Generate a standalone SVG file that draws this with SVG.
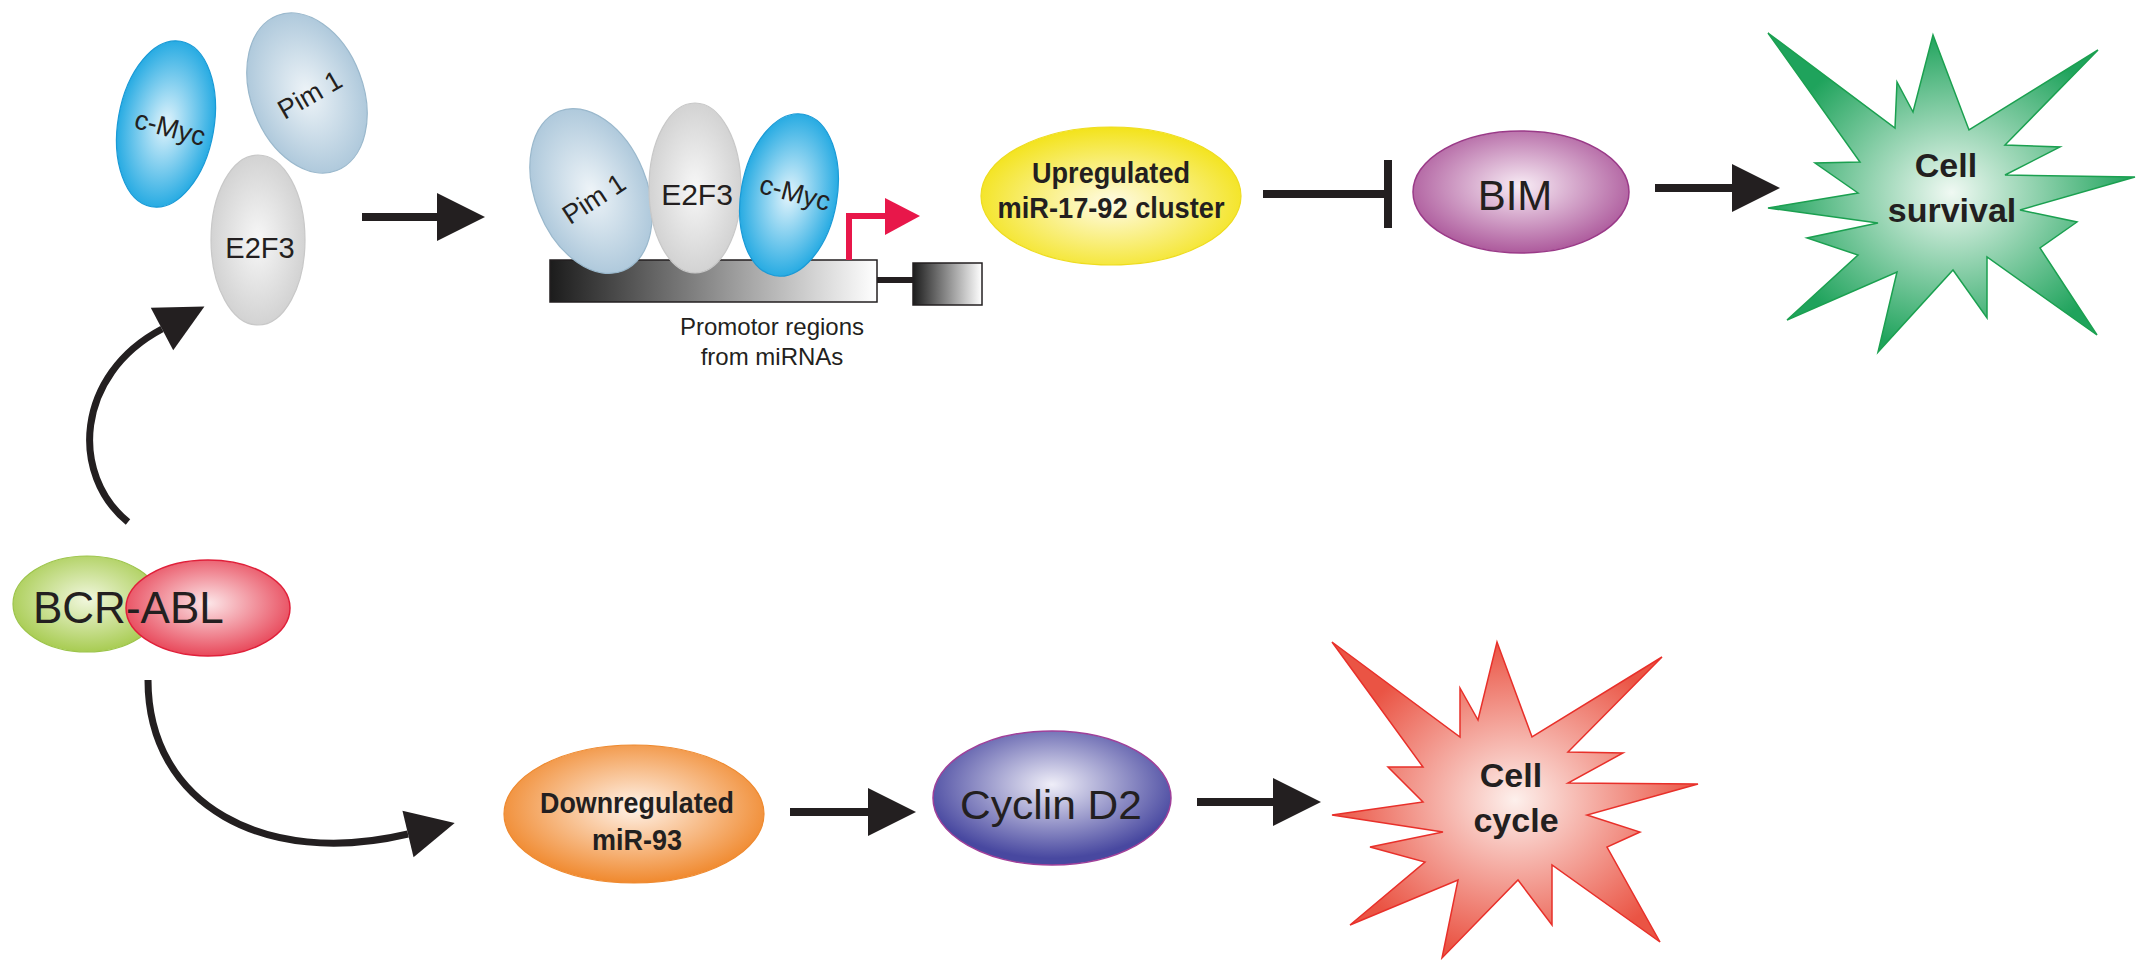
<svg xmlns="http://www.w3.org/2000/svg" width="2150" height="972" viewBox="0 0 2150 972">
<style>
  .lbl { font-family: "Liberation Sans", Arial, sans-serif; fill: #231f20; }
  .bold { font-weight: bold; }
  .conn { stroke: #231f20; fill: none; }
  .cmyc { fill: url(#gCmyc); stroke: #1a9ad6; stroke-width: 1.2; }
  .pim { fill: url(#gPim); stroke: #9ab8cc; stroke-width: 1.2; }
  .e2f3 { fill: url(#gE2f3); stroke: #c8c8c8; stroke-width: 1.2; }
</style>
<defs>
  <radialGradient id="gCmyc" cx="50%" cy="50%" r="55%"><stop offset="0" stop-color="#e2f4fc"/><stop offset="1" stop-color="#15a4e0"/></radialGradient>
  <radialGradient id="gPim" cx="50%" cy="50%" r="55%"><stop offset="0" stop-color="#eef4f8"/><stop offset="1" stop-color="#a9c5d9"/></radialGradient>
  <radialGradient id="gE2f3" cx="50%" cy="50%" r="55%"><stop offset="0" stop-color="#f7f7f7"/><stop offset="1" stop-color="#cfcfcf"/></radialGradient>
  <radialGradient id="gBcr" cx="50%" cy="45%" r="55%"><stop offset="0" stop-color="#f1f7de"/><stop offset="1" stop-color="#a8cc52"/></radialGradient>
  <radialGradient id="gAbl" cx="50%" cy="45%" r="55%"><stop offset="0" stop-color="#fce6e8"/><stop offset="1" stop-color="#e8485a"/></radialGradient>
  <radialGradient id="gYel" cx="50%" cy="55%" r="55%"><stop offset="0" stop-color="#fffbe6"/><stop offset="1" stop-color="#f3e31a"/></radialGradient>
  <radialGradient id="gBim" cx="50%" cy="45%" r="55%"><stop offset="0" stop-color="#f8ecf5"/><stop offset="1" stop-color="#ad5a9c"/></radialGradient>
  <radialGradient id="gOra" cx="50%" cy="45%" r="55%"><stop offset="0" stop-color="#fff3ea"/><stop offset="1" stop-color="#f0892e"/></radialGradient>
  <radialGradient id="gCyc" cx="50%" cy="40%" r="55%"><stop offset="0" stop-color="#efeef8"/><stop offset="1" stop-color="#4848a0"/></radialGradient>
  <radialGradient id="gGreen" cx="50%" cy="50%" r="50%"><stop offset="0" stop-color="#f0f9f3"/><stop offset="1" stop-color="#1fa35c"/></radialGradient>
  <radialGradient id="gRed" cx="50%" cy="50%" r="50%"><stop offset="0" stop-color="#fdf0ec"/><stop offset="1" stop-color="#ea5444"/></radialGradient>
  <linearGradient id="gBar" x1="0" y1="0" x2="1" y2="0"><stop offset="0" stop-color="#1c1c1c"/><stop offset="1" stop-color="#ffffff"/></linearGradient>
  <marker id="ah" markerUnits="userSpaceOnUse" markerWidth="50" markerHeight="50" refX="0" refY="24" orient="auto" overflow="visible">
    <path d="M0,0 L48,24 L0,48 z" fill="#231f20"/>
  </marker>
</defs>
<rect width="2150" height="972" fill="#ffffff"/>

<!-- Connectors -->
<g id="connectors">
  <line class="conn" x1="362" y1="217" x2="437" y2="217" stroke-width="8" marker-end="url(#ah)"/>
  <path class="conn" d="M128,522 C70,475 75,375 162,329" stroke-width="7" marker-end="url(#ah)"/>
  <path class="conn" d="M148,680 C148,805 265,868 408,834" stroke-width="7" marker-end="url(#ah)"/>
  <line class="conn" x1="1263" y1="194" x2="1388" y2="194" stroke-width="8"/>
  <line class="conn" x1="1388" y1="160" x2="1388" y2="228" stroke-width="8"/>
  <line class="conn" x1="1655" y1="188" x2="1732" y2="188" stroke-width="8" marker-end="url(#ah)"/>
  <line class="conn" x1="790" y1="812" x2="868" y2="812" stroke-width="8" marker-end="url(#ah)"/>
  <line class="conn" x1="1197" y1="802" x2="1273" y2="802" stroke-width="8" marker-end="url(#ah)"/>
</g>

<!-- Free factors -->
<g id="cmyc-free">
  <ellipse class="cmyc" cx="166" cy="124" rx="48" ry="84" transform="rotate(10 166 124)"/>
  <text class="lbl" x="170" y="137" font-size="27" text-anchor="middle" transform="rotate(15 170 128)">c-Myc</text>
</g>
<g id="pim1-free">
  <ellipse class="pim" cx="307" cy="93" rx="56" ry="83" transform="rotate(-21 307 93)"/>
  <text class="lbl" x="310" y="104" font-size="27" text-anchor="middle" transform="rotate(-30 310 95)">Pim 1</text>
</g>
<g id="e2f3-free">
  <ellipse class="e2f3" cx="258" cy="240" rx="47" ry="85"/>
  <text class="lbl" x="260" y="258" font-size="29" text-anchor="middle">E2F3</text>
</g>

<!-- Promoter complex -->
<g id="promoter">
  <rect x="550" y="260" width="327" height="42" fill="url(#gBar)" stroke="#231f20" stroke-width="1.5"/>
  <line x1="877" y1="280" x2="913" y2="280" stroke="#231f20" stroke-width="6"/>
  <rect x="913" y="263" width="69" height="42" fill="url(#gBar)" stroke="#231f20" stroke-width="1.5"/>
  <path d="M849,260 V216 H887" fill="none" stroke="#e8174a" stroke-width="6"/>
  <polygon points="885,198 920,216 885,235" fill="#e8174a"/>
  <text class="lbl" x="772" y="335" font-size="24" text-anchor="middle">Promotor regions</text>
  <text class="lbl" x="772" y="365" font-size="24" text-anchor="middle">from miRNAs</text>
</g>
<g id="pim1-bound">
  <ellipse class="pim" cx="591" cy="191" rx="56" ry="86" transform="rotate(-22 591 191)"/>
  <text class="lbl" x="594" y="208" font-size="27" text-anchor="middle" transform="rotate(-33 594 199)">Pim 1</text>
</g>
<g id="e2f3-bound">
  <ellipse class="e2f3" cx="695" cy="188" rx="46" ry="85"/>
  <text class="lbl" x="697" y="205" font-size="30" text-anchor="middle">E2F3</text>
</g>
<g id="cmyc-bound">
  <ellipse class="cmyc" cx="789" cy="195" rx="48" ry="82" transform="rotate(10 789 195)"/>
  <text class="lbl" x="795" y="202" font-size="27" text-anchor="middle" transform="rotate(15 795 193)">c-Myc</text>
</g>

<!-- BCR-ABL -->
<g id="bcr-abl">
  <ellipse cx="87" cy="604" rx="74" ry="48" fill="url(#gBcr)" stroke="#9cc44a" stroke-width="1.2"/>
  <ellipse cx="208" cy="608" rx="82" ry="48" fill="url(#gAbl)" stroke="#e0203a" stroke-width="1.5"/>
  <text class="lbl" x="33" y="623" font-size="44">BCR-ABL</text>
</g>

<!-- miR-17-92 -->
<g id="mir17-92">
  <ellipse cx="1111" cy="196" rx="130" ry="69" fill="url(#gYel)" stroke="#eedc20" stroke-width="1.2"/>
  <text class="lbl bold" x="1111" y="183" font-size="29" text-anchor="middle" textLength="158" lengthAdjust="spacingAndGlyphs">Upregulated</text>
  <text class="lbl bold" x="1111" y="218" font-size="29" text-anchor="middle" textLength="227" lengthAdjust="spacingAndGlyphs">miR-17-92 cluster</text>
</g>

<!-- BIM -->
<g id="bim">
  <ellipse cx="1521" cy="192" rx="108" ry="61" fill="url(#gBim)" stroke="#9a3a88" stroke-width="1.5"/>
  <text class="lbl" x="1515" y="210" font-size="42" text-anchor="middle">BIM</text>
</g>

<!-- Cell survival -->
<g id="cell-survival">
  <polygon points="1768,33 1895,128 1897,82 1913,112 1933,35 1969,130 2098,50 2005,145 2060,147 2005,175 2135,177 2020,210 2077,222 2040,248 2097,335 1987,257 1987,318 1953,270 1878,352 1897,272 1787,320 1858,255 1807,238 1878,223 1768,208 1858,193 1815,163 1860,162" fill="url(#gGreen)" stroke="#1ba050" stroke-width="1.5" stroke-linejoin="miter"/>
  <text class="lbl bold" x="1946" y="177" font-size="34" text-anchor="middle">Cell</text>
  <text class="lbl bold" x="1952" y="222" font-size="34" text-anchor="middle">survival</text>
</g>

<!-- miR-93 -->
<g id="mir93">
  <ellipse cx="634" cy="814" rx="130" ry="69" fill="url(#gOra)" stroke="#ee8a30" stroke-width="1.2"/>
  <text class="lbl bold" x="637" y="813" font-size="29" text-anchor="middle" textLength="194" lengthAdjust="spacingAndGlyphs">Downregulated</text>
  <text class="lbl bold" x="637" y="850" font-size="29" text-anchor="middle" textLength="90" lengthAdjust="spacingAndGlyphs">miR-93</text>
</g>

<!-- Cyclin D2 -->
<g id="cyclin-d2">
  <ellipse cx="1052" cy="798" rx="119" ry="67" fill="url(#gCyc)" stroke="#a0409a" stroke-width="1.5"/>
  <text class="lbl" x="1051" y="819" font-size="41" text-anchor="middle" textLength="182" lengthAdjust="spacingAndGlyphs">Cyclin D2</text>
</g>

<!-- Cell cycle -->
<g id="cell-cycle">
  <polygon points="1332,642 1460,737 1460,688 1478,720 1497,642 1532,737 1662,657 1568,752 1623,753 1568,783 1698,784 1587,815 1640,832 1607,847 1660,942 1552,865 1552,925 1518,880 1442,958 1458,880 1350,925 1425,862 1370,847 1443,832 1332,815 1423,802 1388,767 1423,767" fill="url(#gRed)" stroke="#e8302a" stroke-width="1.5"/>
  <text class="lbl bold" x="1511" y="787" font-size="34" text-anchor="middle">Cell</text>
  <text class="lbl bold" x="1516" y="832" font-size="34" text-anchor="middle">cycle</text>
</g>
</svg>
